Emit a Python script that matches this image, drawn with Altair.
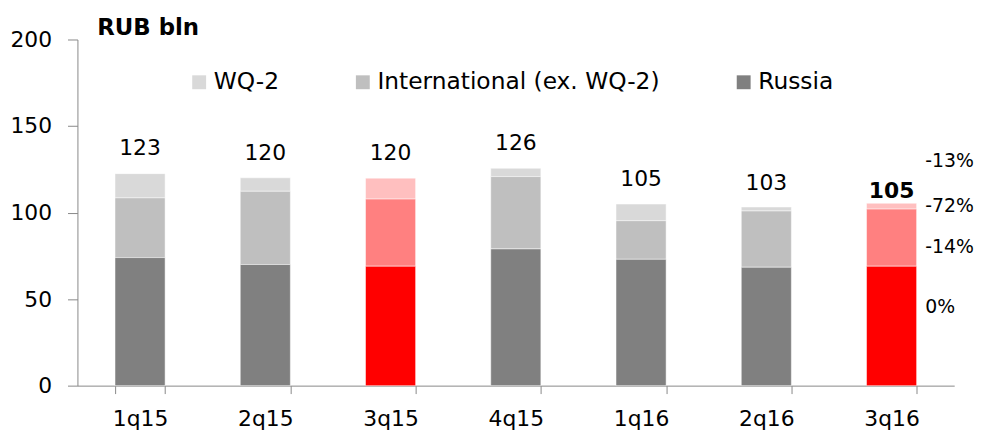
import altair as alt
import pandas as pd

# ---- data ----
quarters = ["1q15", "2q15", "3q15", "4q15", "1q16", "2q16", "3q16"]
russia = [74.0, 70.0, 69.0, 79.0, 73.0, 68.4, 69.0]
international = [34.5, 42.3, 38.8, 41.8, 22.3, 32.5, 33.0]
wq2 = [14.0, 7.8, 12.1, 4.8, 9.6, 2.3, 3.4]
totals = [123, 120, 120, 126, 105, 103, 105]
highlighted = [False, False, True, False, False, False, True]
bold_total = [False, False, False, False, False, False, True]

series_names = ["WQ-2", "International (ex. WQ-2)", "Russia"]
series_values = {"Russia": russia, "International (ex. WQ-2)": international, "WQ-2": wq2}
stack_order = {"Russia": 0, "International (ex. WQ-2)": 1, "WQ-2": 2}

change_labels = ["-13%", "-72%", "-14%", "0%"]
change_levels = [129.5, 103.7, 80.2, 45.3]

unit_title = ["RUB bln"]

gray_colors = ["#D9D9D9", "#BFBFBF", "#808080"]
red_colors = ["#FFBFBF", "#FF8080", "#FF0000"]

# ---- tables ----
rows = []
for i, q in enumerate(quarters):
    for name in series_names:
        key = name + (" (hl)" if highlighted[i] else "")
        rows.append({"quarter": q, "series": name, "key": key,
                     "value": series_values[name][i], "order": stack_order[name]})
bars_df = pd.DataFrame(rows)

totals_df = pd.DataFrame({"quarter": quarters, "total": totals, "bold": bold_total})
changes_df = pd.DataFrame({"quarter": [quarters[-1]] * len(change_labels),
                           "label": change_labels, "level": change_levels})
title_df = pd.DataFrame({"label": unit_title})

FONT = "DejaVu Sans"
AX = "#888888"

x_enc = alt.X("quarter:N", sort=quarters,
              scale=alt.Scale(paddingInner=0.6, paddingOuter=0.3),
              axis=alt.Axis(title=None, labelAngle=0, tickBand="extent", tickSize=8,
                            labelPadding=15, labelFontSize=22, labelFont=FONT,
                            labelColor="black", domainColor=AX, tickColor=AX,
                            grid=False))

color_domain = series_names + [n + " (hl)" for n in series_names]
color_range = gray_colors + red_colors

bars = alt.Chart(bars_df).mark_bar(stroke="white", strokeWidth=0.5).encode(
    x=x_enc,
    y=alt.Y("value:Q", stack="zero",
            scale=alt.Scale(domain=[0, 200]),
            axis=alt.Axis(title=None, values=[0, 50, 100, 150, 200], grid=False,
                          tickSize=10, labelPadding=16, labelFontSize=22,
                          labelFont=FONT, labelColor="black",
                          domainColor=AX, tickColor=AX)),
    color=alt.Color("key:N",
                    scale=alt.Scale(domain=color_domain, range=color_range),
                    legend=alt.Legend(title=None, orient="none", legendX=111, legendY=31,
                                      direction="horizontal", values=series_names,
                                      symbolType="square", symbolSize=196,
                                      symbolStrokeWidth=0, labelFontSize=23.5,
                                      labelFont=FONT, labelColor="black",
                                      labelLimit=500, labelOffset=3, columnPadding=72)),
    order=alt.Order("order:Q"),
)

normal_labels = alt.Chart(totals_df).transform_filter("!datum.bold").mark_text(
    baseline="middle", dy=-25, fontSize=22, font=FONT, color="black"
).encode(x=x_enc, y=alt.Y("total:Q"), text=alt.Text("total:Q"))

bold_labels = alt.Chart(totals_df).transform_filter("datum.bold").mark_text(
    baseline="middle", dy=-13, fontSize=22, font=FONT, fontWeight="bold", color="black"
).encode(x=x_enc, y=alt.Y("total:Q"), text=alt.Text("total:Q"))

change_text = alt.Chart(changes_df).mark_text(
    align="left", baseline="middle", dx=34, fontSize=19, font=FONT, color="black"
).encode(x=x_enc, y=alt.Y("level:Q"), text="label:N")

title_text = alt.Chart(title_df).mark_text(
    align="left", baseline="alphabetic", fontSize=23, fontWeight="bold",
    font=FONT, color="black"
).encode(x=alt.value(20), y=alt.value(-5), text="label:N")

chart = alt.layer(bars, normal_labels, bold_labels, change_text, title_text).properties(
    width=884, height=349,
    padding={"left": 70, "top": 30, "right": 24, "bottom": 47},
    autosize=alt.AutoSizeParams(type="none"),
).configure_view(stroke=None)

chart.save("out.html", embed_options={"renderer": "svg", "actions": False})
